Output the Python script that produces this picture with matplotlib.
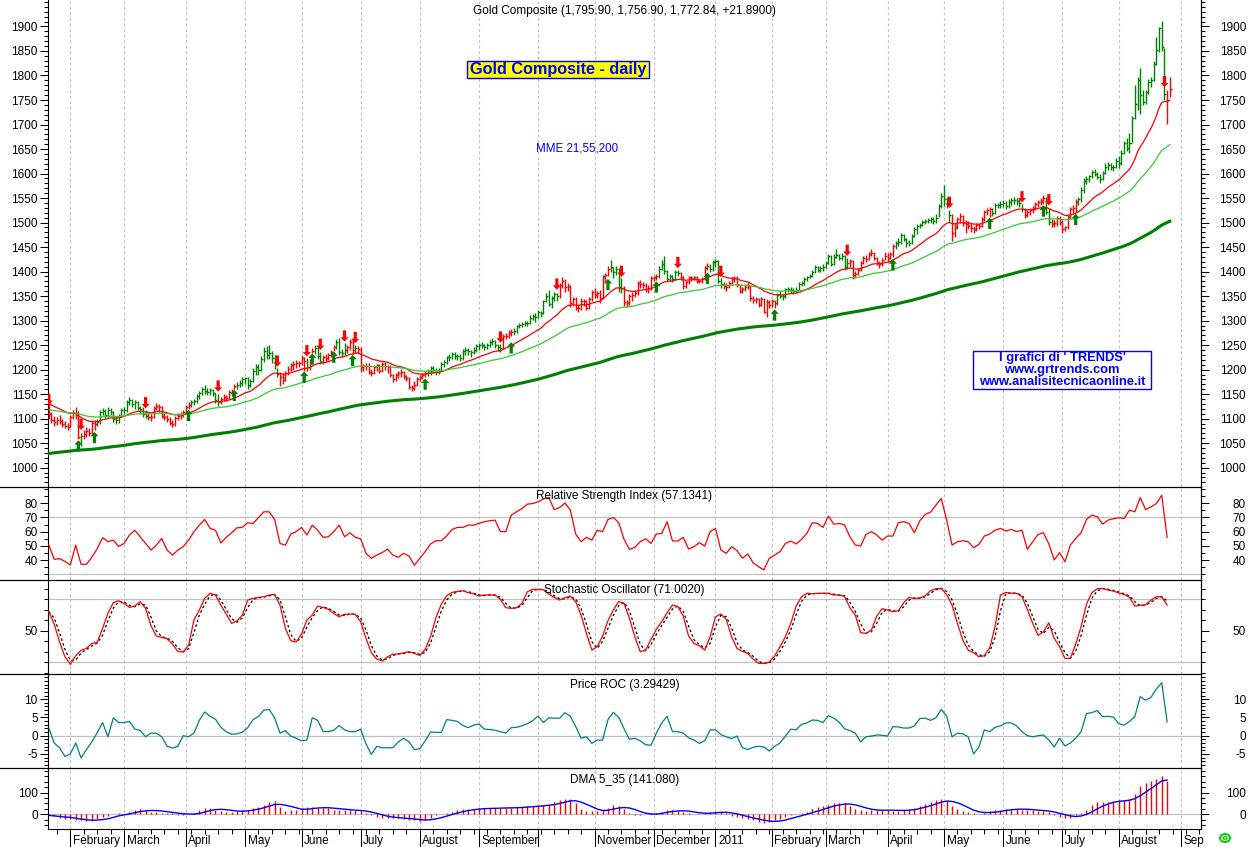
import numpy as np
import pandas as pd
import matplotlib
matplotlib.use('Agg')
import matplotlib.pyplot as plt
from matplotlib.lines import Line2D
from matplotlib.patches import Rectangle, Ellipse
from matplotlib.ticker import FixedLocator, MultipleLocator

plt.rcParams['font.family'] = ['Liberation Sans', 'DejaVu Sans']
plt.rcParams['axes.unicode_minus'] = False

# ---------------- data ----------------
start_date = '2010-01-20'
axis_end_date = '2011-09-30'

close = [
    1110, 1098, 1094, 1098, 1096, 1090, 1086, 1084,
    1104, 1112, 1108, 1062, 1064, 1068, 1074, 1070, 1092, 1090, 1094, 1114, 1116, 1108, 1118, 1114, 1100, 1098, 1106, 1118,
    1118, 1134, 1138, 1130, 1134, 1122, 1120, 1110, 1106, 1104, 1104, 1122, 1126, 1124, 1106, 1104, 1100, 1092, 1090, 1102, 1106, 1108, 1114,
    1124, 1128, 1134, 1136, 1146, 1152, 1160, 1156, 1154, 1158, 1152, 1138, 1134, 1140, 1144, 1142, 1154, 1152, 1166, 1168, 1172, 1180,
    1182, 1168, 1176, 1198, 1206, 1200, 1222, 1238, 1230, 1234, 1224, 1212, 1192, 1184, 1178, 1194, 1202, 1210, 1212, 1214, 1214,
    1224, 1218, 1206, 1218, 1238, 1244, 1228, 1218, 1226, 1224, 1230, 1236, 1246, 1256, 1236, 1234, 1240, 1246, 1256, 1240, 1244, 1242,
    1206, 1208, 1208, 1196, 1194, 1206, 1210, 1198, 1212, 1208, 1206, 1190, 1180, 1190, 1194, 1196, 1188, 1182, 1164, 1162, 1168, 1180,
    1184, 1190, 1194, 1198, 1204, 1200, 1196, 1198, 1212, 1216, 1226, 1226, 1232, 1228, 1228, 1224, 1238, 1240, 1238, 1236, 1240, 1248,
    1250, 1250, 1246, 1250, 1256, 1258, 1250, 1246, 1244, 1268, 1268, 1274, 1276, 1278, 1288, 1292, 1294, 1296, 1296, 1306, 1310, 1308,
    1318, 1316, 1340, 1350, 1334, 1346, 1354, 1350, 1372, 1380, 1368, 1370, 1336, 1344, 1326, 1326, 1340, 1340, 1326, 1344, 1358,
    1352, 1356, 1346, 1390, 1394, 1406, 1410, 1400, 1406, 1368, 1366, 1338, 1336, 1350, 1352, 1356, 1376, 1374, 1372, 1364, 1366, 1386,
    1388, 1390, 1406, 1416, 1402, 1384, 1390, 1384, 1400, 1398, 1388, 1370, 1378, 1388, 1386, 1388, 1380, 1380, 1384, 1408, 1412, 1406, 1420,
    1422, 1380, 1374, 1370, 1368, 1376, 1384, 1386, 1372, 1360, 1364, 1368, 1370, 1346, 1342, 1344, 1332, 1344, 1318, 1338, 1332,
    1340, 1336, 1352, 1350, 1350, 1364, 1364, 1362, 1360, 1362, 1374, 1376, 1384, 1388, 1392, 1400, 1410, 1404, 1408, 1410,
    1418, 1432, 1416, 1430, 1434, 1428, 1432, 1410, 1418, 1422, 1394, 1396, 1404, 1418, 1428, 1426, 1436, 1438, 1428, 1418, 1416, 1424, 1432,
    1428, 1436, 1452, 1458, 1460, 1474, 1466, 1458, 1458, 1472, 1486, 1492, 1496, 1502, 1504, 1506, 1508, 1504, 1510, 1534, 1554,
    1548, 1540, 1516, 1478, 1490, 1508, 1514, 1500, 1498, 1494, 1488, 1486, 1496, 1494, 1508, 1522, 1526, 1528, 1520, 1536, 1536, 1538,
    1540, 1534, 1542, 1546, 1546, 1544, 1540, 1528, 1516, 1522, 1526, 1530, 1538, 1542, 1544, 1550, 1522, 1502, 1498, 1500, 1510, 1502,
    1486, 1490, 1512, 1528, 1530, 1542, 1548, 1566, 1584, 1588, 1594, 1604, 1600, 1592, 1588, 1602, 1614, 1618, 1614, 1614, 1626,
    1622, 1642, 1662, 1652, 1662, 1714, 1742, 1790, 1760, 1746, 1766, 1786, 1790, 1824, 1852, 1896, 1858, 1762, 1751, 1773,
]
high = [
    1136, 1114, 1106, 1104, 1108, 1100, 1096, 1092,
    1108, 1118, 1124, 1116, 1070, 1076, 1082, 1080, 1096, 1098, 1100, 1118, 1122, 1120, 1124, 1122, 1116, 1106, 1110, 1122,
    1124, 1138, 1144, 1140, 1138, 1136, 1126, 1124, 1118, 1112, 1110, 1126, 1132, 1130, 1126, 1112, 1108, 1104, 1098, 1106, 1112, 1114, 1118,
    1128, 1134, 1138, 1140, 1150, 1156, 1164, 1168, 1162, 1162, 1160, 1152, 1150, 1144, 1150, 1148, 1158, 1160, 1170, 1174, 1178, 1184,
    1186, 1186, 1180, 1204, 1212, 1212, 1228, 1246, 1248, 1250, 1238, 1230, 1204, 1196, 1194, 1198, 1208, 1214, 1218, 1220, 1218,
    1230, 1226, 1224, 1222, 1244, 1250, 1246, 1236, 1230, 1232, 1234, 1240, 1250, 1262, 1264, 1242, 1254, 1250, 1262, 1264, 1250, 1248,
    1246, 1212, 1214, 1214, 1202, 1210, 1212, 1212, 1216, 1216, 1210, 1210, 1192, 1194, 1198, 1202, 1198, 1190, 1186, 1168, 1176, 1184,
    1190, 1194, 1198, 1202, 1208, 1208, 1204, 1204, 1216, 1220, 1228, 1232, 1236, 1236, 1232, 1232, 1242, 1246, 1244, 1240, 1246, 1252,
    1254, 1256, 1252, 1254, 1260, 1264, 1260, 1252, 1252, 1272, 1274, 1280, 1282, 1284, 1292, 1296, 1298, 1300, 1300, 1312, 1314, 1316,
    1322, 1320, 1342, 1356, 1362, 1350, 1358, 1356, 1376, 1388, 1384, 1376, 1372, 1348, 1348, 1332, 1346, 1344, 1342, 1348, 1362,
    1366, 1360, 1362, 1394, 1398, 1412, 1424, 1410, 1412, 1408, 1386, 1370, 1342, 1354, 1358, 1362, 1380, 1382, 1378, 1376, 1372, 1390,
    1392, 1396, 1412, 1424, 1432, 1404, 1396, 1394, 1404, 1404, 1400, 1390, 1382, 1392, 1392, 1392, 1390, 1384, 1388, 1412, 1418, 1416, 1424,
    1426, 1424, 1386, 1378, 1376, 1380, 1388, 1390, 1390, 1374, 1368, 1374, 1378, 1370, 1350, 1348, 1346, 1348, 1346, 1344, 1342,
    1344, 1342, 1356, 1360, 1354, 1366, 1368, 1368, 1366, 1368, 1378, 1380, 1388, 1392, 1396, 1404, 1414, 1412, 1412, 1416,
    1422, 1436, 1434, 1436, 1446, 1436, 1438, 1434, 1428, 1426, 1424, 1402, 1408, 1422, 1432, 1434, 1440, 1446, 1440, 1430, 1422, 1428, 1440,
    1438, 1440, 1456, 1462, 1468, 1478, 1476, 1468, 1464, 1476, 1490, 1498, 1500, 1506, 1508, 1510, 1512, 1512, 1518, 1538, 1560,
    1577, 1552, 1526, 1518, 1500, 1512, 1520, 1516, 1506, 1504, 1500, 1494, 1500, 1500, 1512, 1526, 1530, 1532, 1530, 1540, 1540, 1544,
    1546, 1544, 1548, 1550, 1552, 1550, 1548, 1538, 1530, 1526, 1530, 1534, 1542, 1546, 1550, 1556, 1552, 1530, 1508, 1506, 1514, 1514,
    1506, 1494, 1516, 1532, 1536, 1548, 1552, 1572, 1590, 1594, 1598, 1608, 1610, 1604, 1600, 1606, 1622, 1624, 1622, 1618, 1632,
    1636, 1648, 1666, 1672, 1682, 1718, 1780, 1796, 1816, 1770, 1770, 1792, 1796, 1830, 1878, 1898, 1912, 1856, 1770, 1796,
]
low = [
    1100, 1092, 1086, 1088, 1090, 1084, 1080, 1076,
    1082, 1100, 1100, 1058, 1044, 1058, 1062, 1064, 1068, 1076, 1086, 1090, 1108, 1102, 1104, 1108, 1094, 1090, 1092, 1104,
    1110, 1114, 1128, 1124, 1120, 1118, 1110, 1104, 1102, 1098, 1096, 1102, 1118, 1114, 1102, 1098, 1094, 1088, 1084, 1086, 1098, 1100, 1104,
    1112, 1120, 1124, 1128, 1132, 1140, 1148, 1150, 1148, 1148, 1146, 1132, 1126, 1130, 1136, 1136, 1140, 1146, 1160, 1160, 1164, 1166,
    1170, 1160, 1164, 1174, 1190, 1190, 1198, 1216, 1222, 1222, 1214, 1202, 1184, 1166, 1170, 1176, 1190, 1198, 1200, 1204, 1206,
    1210, 1198, 1198, 1200, 1234, 1232, 1222, 1212, 1212, 1216, 1220, 1226, 1238, 1242, 1230, 1226, 1230, 1234, 1240, 1232, 1234, 1234,
    1196, 1198, 1200, 1192, 1188, 1192, 1198, 1194, 1196, 1200, 1194, 1186, 1174, 1176, 1182, 1186, 1180, 1176, 1160, 1156, 1158, 1166,
    1176, 1180, 1184, 1188, 1190, 1194, 1190, 1192, 1198, 1206, 1212, 1218, 1222, 1222, 1220, 1218, 1220, 1230, 1230, 1226, 1232, 1236,
    1240, 1244, 1240, 1242, 1246, 1250, 1244, 1238, 1236, 1242, 1262, 1264, 1268, 1270, 1274, 1284, 1286, 1288, 1290, 1294, 1302, 1298,
    1305, 1308, 1314, 1338, 1330, 1326, 1340, 1340, 1346, 1366, 1358, 1360, 1328, 1330, 1322, 1318, 1322, 1330, 1322, 1324, 1340,
    1346, 1346, 1336, 1344, 1380, 1390, 1400, 1386, 1394, 1358, 1356, 1330, 1328, 1332, 1340, 1348, 1352, 1366, 1366, 1358, 1356, 1362,
    1380, 1382, 1386, 1404, 1396, 1380, 1380, 1378, 1382, 1390, 1382, 1364, 1366, 1374, 1380, 1382, 1376, 1376, 1376, 1382, 1404, 1400, 1402,
    1410, 1376, 1366, 1364, 1360, 1366, 1372, 1378, 1368, 1356, 1356, 1360, 1364, 1340, 1336, 1336, 1328, 1330, 1316, 1308, 1326,
    1328, 1326, 1332, 1346, 1342, 1346, 1358, 1356, 1354, 1356, 1360, 1370, 1372, 1380, 1386, 1388, 1398, 1400, 1400, 1402,
    1408, 1416, 1412, 1414, 1428, 1424, 1424, 1404, 1406, 1410, 1384, 1386, 1394, 1402, 1416, 1420, 1424, 1432, 1424, 1414, 1408, 1412, 1424,
    1420, 1426, 1430, 1446, 1452, 1456, 1462, 1450, 1452, 1456, 1470, 1476, 1488, 1494, 1498, 1500, 1500, 1498, 1500, 1512, 1530,
    1534, 1530, 1502, 1462, 1470, 1486, 1500, 1494, 1478, 1486, 1480, 1478, 1482, 1486, 1490, 1504, 1516, 1512, 1514, 1518, 1530, 1530,
    1532, 1528, 1530, 1536, 1538, 1536, 1532, 1522, 1510, 1512, 1516, 1520, 1526, 1532, 1536, 1538, 1518, 1496, 1490, 1490, 1494, 1496,
    1478, 1482, 1486, 1508, 1520, 1522, 1536, 1542, 1560, 1578, 1582, 1590, 1594, 1588, 1580, 1586, 1600, 1608, 1608, 1606, 1612,
    1612, 1618, 1640, 1646, 1642, 1664, 1712, 1730, 1722, 1740, 1742, 1762, 1776, 1788, 1822, 1848, 1850, 1750, 1702, 1757,
]

# moving averages (MME 21, 55, 200) seeded with the values read at the first bar
ema_periods = [21, 55, 200]
ema_seeds = [1131, 1118, 1029]

# signal arrows: bar index and arrow-tip price
down_idx = [0, 12, 36, 63, 85, 96, 101, 110, 114, 168, 189, 213, 234, 250, 297, 335, 362, 372, 415]
down_tip = [1128, 1077, 1121, 1155, 1206, 1227, 1240, 1257, 1254, 1255, 1363, 1389, 1407, 1389, 1432, 1530, 1541, 1535, 1776]
up_idx = [11, 17, 52, 69, 95, 98, 106, 113, 140, 172, 208, 226, 245, 270, 314, 350, 370, 382]
up_tip = [1056, 1073, 1118, 1159, 1196, 1233, 1237, 1230, 1182, 1256, 1385, 1380, 1398, 1323, 1425, 1510, 1535, 1518]

# indicators, sampled every 2 trading days
ind_step = 2
rsi = [
    50.5, 40.5, 41, 39, 36.5, 50.5, 37, 37, 42, 48,
    55.7, 53, 54, 49.5, 51.7, 57.6, 61, 56.4, 51.7, 47,
    50.5, 55.2, 47, 43.5, 47, 49.5, 54, 60, 64.6, 68.6,
    62.3, 61, 52, 56, 59.2, 62.7, 63, 66.3, 65.8, 70,
    74, 74, 68.6, 51.7, 50.5, 58.3, 60, 63, 57.6, 64.6,
    61, 56, 56.4, 60, 64.6, 56.4, 59.2, 56, 55, 44.7,
    41.2, 43.5, 45.2, 47.7, 43.5, 41.9, 44.7, 42.8, 36.3, 41.2,
    45.9, 51.3, 53.6, 53.6, 57, 61.6, 63, 63, 64.6, 64.6,
    65.8, 67, 67.7, 68.1, 60, 60, 71.6, 74, 76.3, 79.4,
    79.8, 81, 83.1, 84, 75.6, 77, 80.3, 75.2, 58.3, 52.9,
    56, 54, 61, 60, 68.6, 70, 66.3, 54.5, 47.5, 48.9,
    52.9, 55, 51.7, 58.3, 58.8, 67, 53.4, 53.4, 56, 47.7,
    49.4, 52.2, 49.9, 60, 62.3, 47, 44.7, 49.4, 46.6, 41.2,
    44.2, 38.1, 35.3, 33, 41.2, 43.5, 45.9, 51.7, 53.4, 51.3,
    54.5, 58.8, 66.3, 65.8, 63, 71, 65.3, 65.8, 64.8, 56.4,
    50.5, 49.9, 58.1, 60, 57.6, 54, 56.9, 56.9, 66.3, 67,
    65.8, 59.2, 67.7, 72.1, 73.8, 78.7, 83.4, 68.1, 50.5, 52.9,
    53.6, 52.9, 48.7, 51, 56.9, 58.3, 61, 62.3, 60.4, 61.6,
    60, 61, 47.5, 52.9, 58.1, 59.2, 51.3, 40, 45.2, 38.8,
    50.5, 55.2, 59.2, 68.6, 71.6, 70.5, 65.3, 68.1, 69.1, 69.8,
    69.3, 75.2, 74, 84, 75.6, 77.5, 79.8, 85.7, 56,
]
stoch_k = [
    68.1, 56.3, 39.5, 25.2, 17.9, 26.2, 31.3, 33.2, 37.9, 38.9,
    52.2, 66.5, 76.7, 78.6, 76, 72.2, 73.5, 77.6, 71.3, 54.8,
    44.9, 43.7, 42.4, 37.3, 30.3, 29.7, 36.3, 60.2, 69.7, 80.8,
    85.6, 84, 74.4, 65.9, 57, 59.5, 64.9, 79.2, 80.8, 81.7,
    82.4, 84, 84.6, 74.4, 52.2, 40.5, 39.2, 46.8, 60.2, 64.9,
    73.5, 72.2, 70.3, 66.5, 63.3, 65.6, 65.9, 65.6, 58.6, 42.7,
    29, 23, 21.1, 25.2, 27.8, 27.8, 29, 30, 28.4, 26.5,
    32.2, 44.3, 62.4, 75.1, 83.3, 86.5, 87.5, 88.1, 86.2, 85.2,
    83, 84, 84, 84, 79.8, 71.9, 71.3, 71.9, 76, 87.1,
    89.4, 89.4, 89, 84.9, 81.7, 79.2, 81.4, 83, 77.6, 64.9,
    47.5, 31.6, 34.8, 44.9, 59.5, 69.7, 77.9, 76, 61.7, 44.3,
    30, 31.6, 41.7, 51.3, 58.6, 67.1, 74.4, 72.9, 64, 44.9,
    37.9, 35.7, 31.6, 44.3, 63.3, 65.9, 60.8, 44.3, 33.2, 30.3,
    28.4, 23, 18.9, 18.9, 20.2, 25.9, 34.8, 44.3, 57, 73.5,
    82.4, 85.6, 85.2, 85.6, 85.6, 85.6, 84, 84, 82.7, 71.9,
    64.9, 48.1, 47.5, 50.6, 64, 71, 69.7, 68.1, 69, 76.7,
    81.7, 80.8, 81.1, 83.3, 88.1, 90, 90.3, 84.3, 74.4, 57,
    41.1, 31.6, 29, 25.2, 26.2, 33.8, 53.8, 84, 86.5, 85.6,
    85.6, 82.4, 70.3, 57, 45.6, 49, 57.6, 42.7, 34.8, 23.7,
    23.7, 37.3, 53.8, 75.4, 86.2, 90, 90.3, 88.7, 87.8, 85.9,
    84.6, 81.7, 73.5, 74.1, 74.8, 79.2, 82.4, 82.4, 74.4,
]
roc = [
    2.1, -2, -3.3, -5.7, -5, -2, -6.1, -3.8, -1.7, 0.8,
    3.6, -0.3, 4.9, 3.6, 3.6, 3.9, 1.8, 1.4, -0.3, 0.7,
    0.7, -0.3, -2.9, -3.4, -2.9, 0, -0.3, 0.7, 4.2, 6.5,
    5.3, 4.5, 2.3, 1.1, 0.4, 0.5, 1, 2.2, 4.4, 5.3,
    7, 7.2, 4.9, 0.7, 1.4, -0.1, -0.7, -1.4, -1.2, 4.9,
    4.2, 1.2, 1.1, 1.5, 2.8, 1.6, 1.1, 1.1, 1.8, -2.3,
    -5.1, -2.9, -3.3, -3.3, -3.3, -1.7, -0.7, -1.7, -3.8, -3.6,
    -1.4, 1, 0.9, 0.9, 4.4, 4.2, 3.9, 2.8, 2.2, 2.9,
    3.2, 1.8, 1.7, 1.5, 1.1, 0.7, 2.2, 2.3, 2.7, 3.3,
    4.1, 5.4, 3.6, 4.9, 4.8, 4.8, 6.3, 5.3, 2.5, -0.7,
    -0.3, -2.1, -1.2, -1.2, 4.4, 6.4, 5, 1.9, -1, -0.7,
    -1.4, -2.5, -2.6, 0.7, 3.5, 5.3, 1.1, 1.1, 0.7, -0.6,
    -1.2, -2.1, -1.4, 1.6, 1.6, 0.3, -0.3, -0.8, -0.1, -3.3,
    -3.8, -3.2, -2.9, -3.1, -4.2, -2.9, -2, -0.1, 1.8, 1.6,
    3.1, 3.5, 4.3, 4.2, 3.6, 5.5, 4.8, 3.7, 1.9, 1.4,
    0.7, -1.7, -0.3, -0.1, 0.2, 0.1, -0.1, 2.5, 2.4, 2.1,
    2.1, 2.7, 4.7, 4.8, 4.2, 4.9, 7.2, 5.3, -0.3, 0.7,
    0.5, -0.3, -5, -3.1, 1.6, 1.1, 2.3, 2.7, 3.5, 3.5,
    2.7, 1.1, 0, -0.3, 0, 0.2, -1.2, -3.1, -0.7, -2.8,
    -2, -0.7, 1.1, 6.1, 6.3, 6.9, 5.2, 5.3, 5.1, 3.3,
    2.9, 3.9, 5.3, 10.7, 9.7, 10.5, 12.8, 14.5, 3.8,
]
dma = [
    -5, -10, -15, -20, -22, -25, -28, -32, -30, -20,
    -12, -10, 0, 5, 2, 12, 18, 25, 22, 12,
    10, 8, 8, 5, -3, -5, 0, 8, 20, 28,
    30, 22, 15, 12, 12, 14, 18, 22, 30, 35,
    45, 55, 60, 35, 15, 18, 22, 28, 32, 32,
    30, 30, 28, 22, 20, 18, 18, 18, 15, 5,
    -5, -12, -15, -18, -15, -18, -22, -25, -28, -30,
    -25, -18, -5, 0, 5, 12, 18, 25, 25, 25,
    27, 28, 28, 30, 30, 30, 30, 32, 35, 38,
    40, 40, 42, 48, 55, 65, 70, 72, 50, 25,
    15, 15, 15, 18, 30, 42, 40, 25, 8, -5,
    -3, 2, 5, 5, 12, 22, 22, 15, 10, 5,
    3, 2, 5, 10, 15, 12, 5, -10, -12, -15,
    -20, -28, -35, -38, -35, -28, -20, -12, -5, 0,
    5, 12, 25, 32, 38, 45, 50, 52, 50, 40,
    25, 18, 15, 20, 22, 20, 18, 15, 15, 22,
    25, 30, 40, 48, 55, 65, 72, 65, 40, 25,
    15, 10, 5, 3, 8, 15, 18, 22, 25, 25,
    25, 22, 18, 18, 15, 15, 10, -5, -12, -15,
    -15, -5, 8, 22, 45, 55, 58, 58, 62, 65,
    68, 72, 95, 130, 145, 155, 162, 178, 155,
]

month_labels = ['February', 'March', 'April', 'May', 'June', 'July', 'August',
                'September', '', 'November', 'December', '2011', 'February',
                'March', 'April', 'May', 'June', 'July', 'August', 'Sep']

# ---------------- helpers ----------------
RED = '#ff0000'
GREEN = '#008000'
LGREEN = '#33cc33'
BLUE = '#0000ff'
GREY = '#c0c0c0'
FS = 8.5

W, H = 1250, 847
fig = plt.figure(figsize=(W / 100, H / 100), dpi=100)
fig.patch.set_facecolor('white')

AX_L, AX_R = 48, 1201


def axrect(top, bottom):
    return [AX_L / W, 1 - bottom / H, (AX_R - AX_L) / W, (bottom - top) / H]


ax_p = fig.add_axes(axrect(0, 487))
ax_r = fig.add_axes(axrect(487, 580))
ax_s = fig.add_axes(axrect(580, 674))
ax_o = fig.add_axes(axrect(674, 768))
ax_d = fig.add_axes(axrect(768, 829))
axes = [ax_p, ax_r, ax_s, ax_o, ax_d]

n = len(close)
idx = np.arange(n)
XLIM = (-0.3, 428.6)
dates = pd.bdate_range(start_date, axis_end_date)
months = dates.month
month_starts = [i for i in range(1, len(dates)) if months[i] != months[i - 1]]
mondays = [i for i in range(len(dates))
           if dates[i].weekday() == 0 and i not in month_starts and i < XLIM[1]]

ylims = [(960.6, 1954), (25.9, 91.5), (8.8, 98.3), (-8.85, 16.9), (-68, 214)]
majors = [list(range(1000, 1901, 50)), [40, 50, 60, 70, 80], [50], [-5, 0, 5, 10], [0, 100]]
minors = [10, 5, 10, 1, 25]

for ax, yl, mj, mn in zip(axes, ylims, majors, minors):
    ax.set_facecolor('white')
    for s in ('top', 'bottom'):
        ax.spines[s].set_visible(False)
    for s in ('left', 'right'):
        ax.spines[s].set_linewidth(0.8)
        ax.spines[s].set_color('black')
    for ms in month_starts:
        ax.axvline(ms, color=GREY, lw=0.8, ls=(0, (2.5, 2.5)), zorder=0)
    ax.yaxis.set_major_locator(FixedLocator(mj))
    ax.yaxis.set_minor_locator(MultipleLocator(mn))
    ax.tick_params(axis='y', which='major', direction='out', length=5.5, width=0.75,
                   pad=1.9, labelsize=FS, left=True, right=False)
    ax.tick_params(axis='y', which='minor', direction='out', length=3, width=0.75,
                   left=True, right=False)
    sec = ax.secondary_yaxis('right')
    sec.yaxis.set_major_locator(FixedLocator(mj))
    sec.yaxis.set_minor_locator(MultipleLocator(mn))
    sec.tick_params(axis='y', which='major', direction='out', length=5.5, width=0.75,
                    pad=26.9, labelsize=FS)
    sec.tick_params(axis='y', which='minor', direction='out', length=3, width=0.75)
    sec.spines['right'].set_linewidth(0.8)
    for lab in sec.get_yticklabels():
        lab.set_horizontalalignment('right')
    if ax is not ax_d:
        ax.tick_params(axis='x', which='both', bottom=False, top=False, labelbottom=False)

# ---------------- price panel ----------------
sig = {i: 'u' for i in up_idx}
sig.update({i: 'd' for i in down_idx})
state = 'd'
bar_colors = []
for i in range(n):
    bar_colors.append(GREEN if state == 'u' else RED)
    state = sig.get(i, state)

ax_p.vlines(idx, low, high, colors=bar_colors, lw=1.0, zorder=3)
ax_p.hlines(close, idx, idx + 0.75, colors=bar_colors, lw=1.0, zorder=3)


def ema(vals, period, seed):
    a = 2.0 / (period + 1)
    out = [seed]
    for v in vals[1:]:
        out.append(out[-1] + a * (v - out[-1]))
    return np.array(out)


ema_styles = [(RED, 0.9), (LGREEN, 0.9), (GREEN, 2.2)]
for p, sd, (c, lw) in zip(ema_periods, ema_seeds, ema_styles):
    ax_p.plot(idx, ema(close, p, sd), color=c, lw=lw, zorder=4)

ALEN, AHEAD = 23, 9
for i, t in zip(down_idx, down_tip):
    ax_p.arrow(i, t + ALEN, 0, -ALEN, width=1.2, head_width=3.0, head_length=AHEAD,
               length_includes_head=True, fc=RED, ec=RED, lw=0, zorder=5)
for i, t in zip(up_idx, up_tip):
    ax_p.arrow(i, t - ALEN, 0, ALEN, width=1.2, head_width=3.0, head_length=AHEAD,
               length_includes_head=True, fc=GREEN, ec=GREEN, lw=0, zorder=5)

# ---------------- indicator panels ----------------
xi = np.arange(len(rsi)) * ind_step

for lvl in (30, 70):
    ax_r.axhline(lvl, color=GREY, lw=0.9, zorder=1)
ax_r.plot(xi, rsi, color=RED, lw=0.9, zorder=3)

for lvl in (20, 80):
    ax_s.axhline(lvl, color=GREY, lw=0.9, zorder=1)
stoch_d = pd.Series(stoch_k).rolling(2, min_periods=1).mean().values
ax_s.plot(xi, stoch_d, color='black', lw=0.9, ls=(0, (2, 2)), zorder=3)
ax_s.plot(xi, stoch_k, color=RED, lw=0.9, zorder=4)

ax_o.axhline(0, color=GREY, lw=0.9, zorder=1)
ax_o.plot(xi, roc, color='#008080', lw=0.9, zorder=3)

ax_d.axhline(0, color=GREY, lw=0.9, zorder=1)
ax_d.vlines(xi, 0, dma, colors=RED, lw=1.0, zorder=3)
dma_sig = pd.Series(dma).rolling(5, min_periods=1).mean().values
ax_d.plot(xi, dma_sig, color=BLUE, lw=1.0, zorder=4)

# bottom time axis
ax_d.set_xticks(month_starts)
ax_d.set_xticks(mondays, minor=True)
ax_d.tick_params(axis='x', which='major', direction='out', length=13, width=0.75,
                 labelbottom=False, bottom=True, top=False)
ax_d.tick_params(axis='x', which='minor', direction='out', length=3.6, width=0.75,
                 bottom=True, top=False)
ax_d.spines['bottom'].set_visible(True)
ax_d.spines['bottom'].set_linewidth(0.8)

# limits last (set_xticks may widen the view)
for ax, yl in zip(axes, ylims):
    ax.set_xlim(*XLIM)
    ax.set_ylim(*yl)

for ms, name in zip(month_starts, month_labels):
    if name:
        ax_d.annotate(name, xy=(ms, 0), xycoords=('data', 'axes fraction'),
                      xytext=(1.8, -8.4), textcoords='offset points',
                      ha='left', va='center', fontsize=FS, annotation_clip=False)

# panel separators
for y in (487, 580, 674, 768):
    fig.add_artist(Line2D([0, AX_R / W], [1 - y / H, 1 - y / H], color='black', lw=0.9))

# ---------------- texts ----------------
cx = (AX_L + AX_R) / 2 / W
fig.text(cx, 1 - 11 / H, 'Gold Composite (1,795.90, 1,756.90, 1,772.84, +21.8900)',
         ha='center', va='center', fontsize=FS)
fig.text(cx, 1 - 496 / H, 'Relative Strength Index (57.1341)', ha='center', va='center', fontsize=FS)
fig.text(cx, 1 - 590 / H, 'Stochastic Oscillator (71.0020)', ha='center', va='center', fontsize=FS)
fig.text(cx, 1 - 684.5 / H, 'Price ROC (3.29429)', ha='center', va='center', fontsize=FS)
fig.text(cx, 1 - 780 / H, 'DMA 5_35 (141.080)', ha='center', va='center', fontsize=FS)

fig.add_artist(Rectangle((467 / W, 1 - 78 / H), 182 / W, 16.5 / H, transform=fig.transFigure,
                         fc='#ffff00', ec=BLUE, lw=1.0))
fig.text(558 / W, 1 - 69.5 / H, 'Gold Composite - daily', ha='center', va='center',
         fontsize=11.7, fontweight='bold', color=BLUE)

fig.text(577 / W, 1 - 148.5 / H, 'MME 21,55,200', ha='center', va='center',
         fontsize=8.3, color=BLUE)

fig.add_artist(Rectangle((973 / W, 1 - 389 / H), 178 / W, 38 / H, transform=fig.transFigure,
                         fc='white', ec=BLUE, lw=1.0))
fig.text(1062 / W, 1 - 370 / H,
         "I grafici di ' TRENDS'\nwww.grtrends.com\nwww.analisitecnicaonline.it",
         ha='center', va='center', multialignment='center', fontsize=9.3,
         fontweight='bold', color=BLUE, linespacing=0.95)

fig.add_artist(Ellipse((1225 / W, 1 - 838 / H), 10 / W, 8 / H, transform=fig.transFigure,
                       fc='none', ec='#00cc00', lw=1.4))
fig.add_artist(Ellipse((1225 / W, 1 - 838 / H), 4 / W, 2.5 / H, transform=fig.transFigure,
                       fc='none', ec='#00cc00', lw=1.0))

fig.savefig('out.png', dpi=100, facecolor='white')
